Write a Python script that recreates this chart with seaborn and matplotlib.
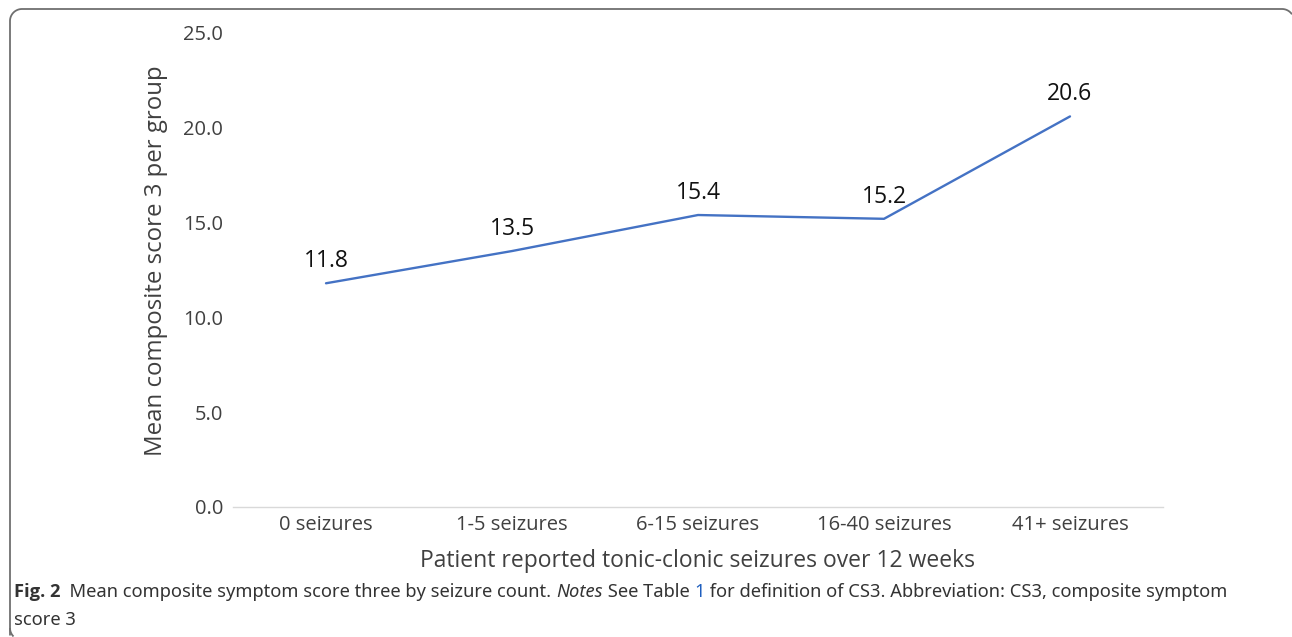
import matplotlib
matplotlib.use("Agg")
import numpy as np
import matplotlib.pyplot as plt
import seaborn as sns
import pandas as pd
from matplotlib.patches import PathPatch
from matplotlib.path import Path
from matplotlib.transforms import IdentityTransform

categories = ["0 seizures", "1-5 seizures", "6-15 seizures", "16-40 seizures", "41+ seizures"]
values = [11.8, 13.5, 15.4, 15.2, 20.6]
value_labels = ["11.8", "13.5", "15.4", "15.2", "20.6"]
yticks = [0, 5, 10, 15, 20, 25]
ytick_labels = ["0.0", "5.0", "10.0", "15.0", "20.0", "25.0"]

sns.set_theme(style="white")
plt.rcParams["font.family"] = ["Open Sans", "DejaVu Sans"]

TXT = "#404040"
W, H = 1292, 637
fig = plt.figure(figsize=(W / 100, H / 100), dpi=100)
ax = fig.add_axes([233 / W, 1 - 507 / H, (1163 - 233) / W, (507 - 33) / H])

df = pd.DataFrame({"group": categories, "score": values})
sns.lineplot(data=df, x="group", y="score", sort=False, color="#4472C4",
             linewidth=1.7, ax=ax)

for i, (v, lab) in enumerate(zip(values, value_labels)):
    ax.annotate(lab, xy=(i, v), xytext=(0, 16), textcoords="offset points",
                ha="center", va="center", fontsize=16.5, color="#111111")

ax.set_xlim(-0.5, len(categories) - 0.5)
ax.set_ylim(0, 25)
ax.set_yticks(yticks)
ax.set_yticklabels(ytick_labels)
ax.tick_params(axis="both", length=0, labelsize=14.5, labelcolor=TXT)
ax.tick_params(axis="y", pad=7)
ax.tick_params(axis="x", pad=6)
for s in ["top", "right", "left"]:
    ax.spines[s].set_visible(False)
ax.spines["bottom"].set_color("#D9D9D9")
ax.spines["bottom"].set_linewidth(1.0)
ax.set_xlabel("Patient reported tonic-clonic seizures over 12 weeks",
              fontsize=16.5, color=TXT, labelpad=10)
ax.set_ylabel("Mean composite score 3 per group", fontsize=17.3, color=TXT)
ax.yaxis.set_label_coords((168 - 233) / 930, (507 - 261) / 474)

# Border frame (pixel coords; only the part inside the canvas)
def arc(cx, cy, r, a0, a1, n=20):
    a = np.linspace(np.radians(a0), np.radians(a1), n)
    return list(zip(cx + r * np.cos(a), cy + r * np.sin(a)))

R = 12
pts = []
pts += [(10, 1.5)]
pts += arc(10 + R, H - 9 - R, R, 180, 90)          # top-left corner
pts += arc(1282, H - 9 - R, R, 90, 34)             # top-right corner to edge
frame = PathPatch(Path(pts), transform=IdentityTransform(), fill=False,
                  edgecolor="#6f6f6f", linewidth=1.3, clip_on=False)
fig.patches.append(frame)
fig.patches.append(PathPatch(Path(arc(10 + R, -3 + R, R, 180, 225)),
                             transform=IdentityTransform(), fill=False,
                             edgecolor="#6f6f6f", linewidth=1.3, clip_on=False))

# Caption
cap_font = ["Noto Sans", "DejaVu Sans"]
CAP = "#333333"
FS = 13.2
y1 = 1 - 592 / H
t = fig.text(14 / W, y1, "Fig. 2", fontsize=FS, fontweight="bold",
             color=CAP, va="center", family=["Open Sans", "DejaVu Sans"])
pieces = [
    ("  Mean composite symptom score three by seizure count. ", "normal", CAP),
    ("Notes", "italic", CAP),
    (" See Table ", "normal", CAP),
    ("1", "normal", "#1f5fbf"),
    (" for definition of CS3. Abbreviation: CS3, composite symptom", "normal", CAP),
]
prev = t
for s, style, col in pieces:
    prev = ax.annotate(s, xy=(1, 0), xycoords=prev, xytext=(0, 0),
                       textcoords="offset points", fontsize=FS,
                       fontstyle=style, color=col, family=cap_font,
                       va="bottom", ha="left", annotation_clip=False)
fig.text(14 / W, 1 - 620 / H, "score 3", fontsize=FS, color=CAP,
         va="center", family=cap_font)

fig.savefig("out.png", dpi=100)
